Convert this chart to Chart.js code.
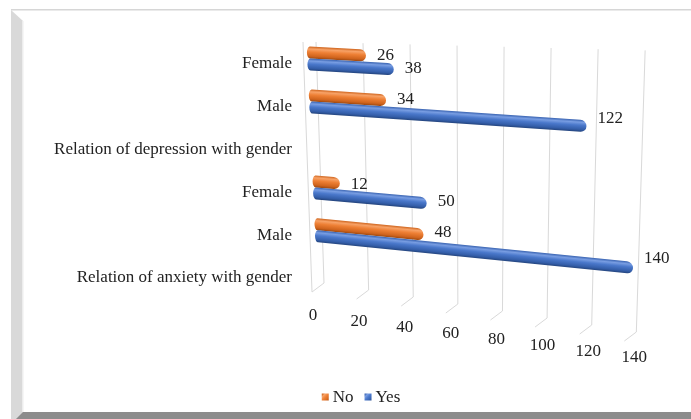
<!DOCTYPE html>
<html>
<head>
<meta charset="utf-8">
<script src="https://cdn.jsdelivr.net/npm/chart.js@4"></script>
<style>
  html, body { margin: 0; padding: 0; background: #ffffff; }
  #wrap { width: 691px; height: 419px; }
  canvas { display: block; }
</style>
</head>
<body>
<div id="wrap"><canvas id="chart" width="691" height="419"></canvas></div>
<script>
// Categories listed top to bottom, as they appear on the vertical axis
const categories = [
  'Female',
  'Male',
  'Relation of depression with gender',
  'Female',
  'Male',
  'Relation of anxiety with gender'
];
const noValues  = [26, 34, null, 12, 48, null];
const yesValues = [38, 122, null, 50, 140, null];
const seriesNames = ['No', 'Yes'];
const seriesColors = ['#ed7d31', '#4472c4'];
const axisMin = 0;
const axisMax = 140;
const axisStep = 20;

const FONT = "'Liberation Serif', 'Times New Roman', serif";
const FONT_SIZE = 17;
const TEXT = '#222222';

// Cylinder shading for each series
const shades = [
  [[0, '#d0661f'], [0.2, '#f7a267'], [0.45, '#ee8035'], [0.8, '#d0641d'], [1, '#9a4710']],
  [[0, '#3a64b2'], [0.2, '#789de2'], [0.45, '#4a78cb'], [0.8, '#345ea9'], [1, '#24447c']]
];

// Depth cues: bars tilt more and shift right the lower they sit
const slopeAt = yc => 0.055 + (yc - 55) * 0.00025;
const shiftAt = yc => (yc - 145) * 0.044;

const PAD_TOP = 37, PAD_BOTTOM = 0, PLOT_BOTTOM = 294.4;

const depthPlugin = {
  id: 'depth',
  beforeDraw(chart) {
    const c = chart.ctx;
    c.save();
    c.fillStyle = '#ffffff';
    c.fillRect(0, 0, chart.width, chart.height);
    // frame: thin top rule, grey left wall, dark base strip
    c.fillStyle = '#d6d6d6';
    c.fillRect(11, 9, chart.width - 11, 1.5);
    c.fillStyle = '#d9d9d9';
    c.beginPath();
    c.moveTo(11, 10); c.lineTo(23, 21); c.lineTo(23, 419); c.lineTo(11, 419);
    c.closePath(); c.fill();
    c.fillStyle = '#ededed';
    c.fillRect(22, 21, 1.5, 391);
    c.fillStyle = '#8c8c8c';
    c.beginPath();
    c.moveTo(23, 412); c.lineTo(chart.width, 412); c.lineTo(chart.width, 419); c.lineTo(16, 419);
    c.closePath(); c.fill();
    c.restore();
  },
  beforeDatasetsDraw(chart) {
    const c = chart.ctx;
    const xs = chart.scales.x;
    const x0 = xs.getPixelForValue(0);

    // back-wall gridlines with floor returns
    c.save();
    c.strokeStyle = '#d9d9d9';
    c.lineWidth = 1;
    let back0 = null, top0 = null;
    xs.ticks.forEach(t => {
      const v = t.value;
      const px = xs.getPixelForValue(v);
      const xTop = px + 5 + (px - x0) * 0.035;
      const yTop = 42 + v * 0.06;
      const xBack = xTop + 8 - v * 0.12;
      const yBack = 283 + v * 0.35;
      c.beginPath();
      c.moveTo(xTop, yTop);
      c.lineTo(xBack, yBack);
      c.lineTo(xBack - 12, yBack + 9);
      c.stroke();
      if (v === 0) { back0 = [xBack - 12, yBack + 9]; top0 = [xTop - 13, yTop]; }
    });
    if (back0) {
      c.beginPath();
      c.moveTo(top0[0], top0[1]);
      c.lineTo(back0[0], back0[1]);
      c.stroke();
    }
    // value-axis labels receding with depth
    c.fillStyle = TEXT;
    c.font = FONT_SIZE + 'px ' + FONT;
    c.textAlign = 'center';
    c.textBaseline = 'middle';
    xs.ticks.forEach(t => {
      const v = t.value;
      const px = xs.getPixelForValue(v);
      c.fillText(String(v), px + 2 + (px - x0) * 0.01, 316 + v * 0.3);
    });
    c.restore();

    // cylinders
    const metas = chart.getSortedVisibleDatasetMetas();
    const labels = [];
    metas.forEach(meta => {
      const ds = chart.data.datasets[meta.index];
      meta.data.forEach((el, i) => {
        const val = ds.data[i];
        if (val === null || val === undefined) return;
        const p = el.getProps(['x', 'y', 'base', 'height'], true);
        const yc = p.y, h = p.height, r = h / 2;
        const xa = p.base, xb = p.x;
        const k = slopeAt(yc), dx = shiftAt(yc);
        const lr = 3;
        c.save();
        c.transform(1, k, 0, 1, dx, -k * xa);
        const g = c.createLinearGradient(0, yc - r, 0, yc + r);
        shades[meta.index].forEach(s => g.addColorStop(s[0], s[1]));
        c.fillStyle = g;
        c.beginPath();
        c.moveTo(xa + lr, yc - r);
        c.lineTo(xb - r, yc - r);
        c.arc(xb - r, yc, r, -Math.PI / 2, Math.PI / 2);
        c.lineTo(xa + lr, yc + r);
        c.ellipse(xa + lr, yc, lr, r, 0, Math.PI / 2, Math.PI * 1.5);
        c.closePath();
        c.fill();
        c.restore();
        const len = xb - xa;
        labels.push([String(val), xb + dx + 11, yc + k * len + 2 - len * 0.035]);
      });
    });
    c.save();
    c.fillStyle = TEXT;
    c.font = FONT_SIZE + 'px ' + FONT;
    c.textAlign = 'left';
    c.textBaseline = 'middle';
    labels.forEach(l => c.fillText(l[0], l[1], l[2]));
    c.restore();
    return false;
  },
  afterDraw(chart) {
    // series key below the plot
    const c = chart.ctx;
    c.save();
    c.font = FONT_SIZE + 'px ' + FONT;
    c.textBaseline = 'middle';
    c.textAlign = 'left';
    const yMid = 398;
    const box = 7, gapBox = 4, gapItem = 11;
    const items = chart.data.datasets.map((ds, i) => ({ text: ds.label, idx: i, w: c.measureText(ds.label).width }));
    const total = items.reduce((s, it) => s + box + gapBox + it.w, 0) + gapItem * (items.length - 1);
    let x = 361 - total / 2;
    items.forEach(it => {
      const g = c.createLinearGradient(x, yMid - box / 2, x + box, yMid + box / 2);
      shades[it.idx].forEach(s => g.addColorStop(s[0], s[1]));
      c.fillStyle = g;
      c.fillRect(x, yMid - box / 2 - 1, box, box);
      c.fillStyle = TEXT;
      c.fillText(it.text, x + box + gapBox, yMid);
      x += box + gapBox + it.w + gapItem;
    });
    c.restore();
  }
};

Chart.defaults.font.family = FONT;
Chart.defaults.font.size = FONT_SIZE;
Chart.defaults.color = TEXT;

new Chart(document.getElementById('chart'), {
  type: 'bar',
  data: {
    labels: categories,
    datasets: [
      { label: seriesNames[0], data: noValues, backgroundColor: seriesColors[0], barThickness: 12 },
      { label: seriesNames[1], data: yesValues, backgroundColor: seriesColors[1], barThickness: 12 }
    ]
  },
  options: {
    indexAxis: 'y',
    responsive: false,
    animation: false,
    devicePixelRatio: 1,
    layout: { padding: { left: 23, right: 62, top: PAD_TOP, bottom: PAD_BOTTOM } },
    scales: {
      x: {
        min: axisMin,
        max: axisMax,
        ticks: { stepSize: axisStep, display: false },
        grid: { display: false, drawTicks: false },
        border: { display: false },
        afterFit(scale) {
          scale.height = Math.max(0, scale.chart.height - PLOT_BOTTOM - PAD_BOTTOM);
        }
      },
      y: {
        ticks: { padding: 19, labelOffset: 5, color: TEXT, font: { size: FONT_SIZE, family: FONT } },
        grid: { display: false, drawTicks: false },
        border: { display: false },
        afterFit(scale) { scale.width = 288; }
      }
    },
    plugins: {
      legend: { display: false },
      tooltip: { enabled: false }
    }
  },
  plugins: [depthPlugin]
});
</script>
</body>
</html>
